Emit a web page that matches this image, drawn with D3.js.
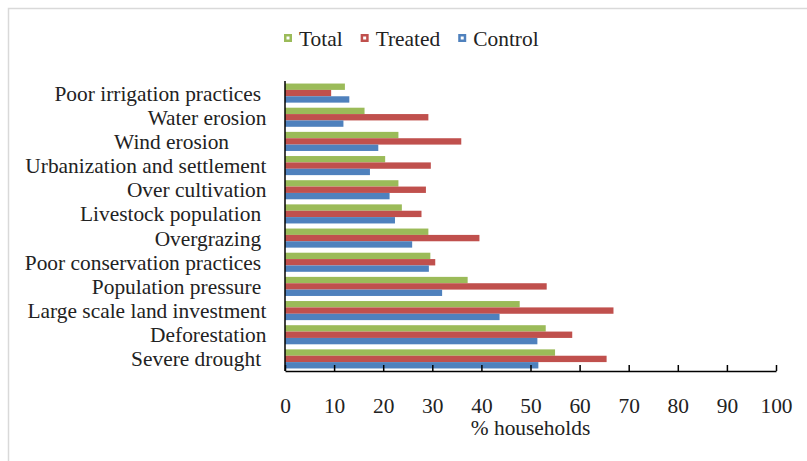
<!DOCTYPE html>
<html>
<head>
<meta charset="utf-8">
<script src="https://cdn.jsdelivr.net/npm/d3@7"></script>
<style>
  html, body { margin: 0; padding: 0; background: #fff; }
  svg text { font-family: "Liberation Serif", "Times New Roman", serif; fill: #222; }
  .cat { white-space: pre; }
</style>
</head>
<body>
<svg id="chart" width="807" height="461"></svg>
<script>
// Reasons for land degradation, % of households per group
const categories = [
  "Poor irrigation practices ",
  "Water erosion",
  "Wind erosion       ",
  "Urbanization and settlement",
  "Over cultivation",
  "Livestock population ",
  "Overgrazing ",
  "Poor conservation practices ",
  "Population pressure ",
  "Large scale land investment",
  "Deforestation",
  "Severe drought "
];
const total   = [12.2, 16.2, 23.1, 20.4, 23.1, 23.8, 29.2, 29.6, 37.2, 47.8, 53.1, 55.0];
const treated = [ 9.4, 29.2, 35.9, 29.7, 28.7, 27.8, 39.6, 30.6, 53.3, 66.9, 58.5, 65.5];
const control = [13.1, 11.9, 19.0, 17.3, 21.3, 22.4, 25.9, 29.3, 32.0, 43.7, 51.4, 51.6];
const seriesNames = ["Total", "Treated", "Control"];
const seriesColors = ["#9BBB59", "#C0504D", "#4F81BD"];
const xTicks = [0, 10, 20, 30, 40, 50, 60, 70, 80, 90, 100];
const xTitle = "% households";

const seriesValues = [total, treated, control];
const fontSize = 21.4;
const svg = d3.select("#chart");

// outer chart frame
svg.append("rect")
  .attr("x", 8.5).attr("y", 8.5)
  .attr("width", 830).attr("height", 500)
  .attr("fill", "none").attr("stroke", "#d9d9d9").attr("stroke-width", 1.5);

const plot = { left: 285, right: 776, top: 81, bottom: 371 };

const x = d3.scaleLinear().domain([0, 100]).range([plot.left, plot.right]);
const y = d3.scaleBand().domain(categories)
  .range([plot.top, plot.bottom])
  .paddingInner(0.21).paddingOuter(0.105);
const ySub = d3.scaleBand().domain(seriesNames).range([0, y.bandwidth()]);

// bars
const groups = svg.append("g").selectAll("g")
  .data(categories)
  .join("g")
  .attr("transform", d => `translate(0,${y(d)})`);

groups.selectAll("rect")
  .data((d, i) => seriesNames.map((s, k) => ({ s, k, v: seriesValues[k][i] })))
  .join("rect")
  .attr("x", x(0))
  .attr("y", d => ySub(d.s))
  .attr("width", d => x(d.v) - x(0))
  .attr("height", ySub.bandwidth())
  .attr("fill", d => seriesColors[d.k]);

// x axis with inward ticks
const xAxis = svg.append("g")
  .attr("transform", `translate(0,${plot.bottom})`)
  .call(d3.axisBottom(x).tickValues(xTicks).tickSize(-6).tickSizeOuter(0).tickPadding(27));
xAxis.select(".domain").attr("stroke", "#000").attr("stroke-width", 1.5);
xAxis.selectAll(".tick line").attr("stroke", "#000").attr("stroke-width", 1.5);
xAxis.selectAll(".tick text").attr("font-size", fontSize);

// y axis line
svg.append("line")
  .attr("x1", plot.left).attr("x2", plot.left)
  .attr("y1", plot.top).attr("y2", plot.bottom)
  .attr("stroke", "#000").attr("stroke-width", 1.5);

// category labels
svg.append("g").selectAll("text")
  .data(categories)
  .join("text")
  .attr("class", "cat")
  .attr("x", 266.5)
  .attr("y", d => y(d) + y.bandwidth() / 2)
  .attr("dy", "0.35em")
  .attr("text-anchor", "end")
  .attr("font-size", fontSize)
  .text(d => d);

// axis title
svg.append("text")
  .attr("x", (plot.left + plot.right) / 2)
  .attr("y", 435)
  .attr("text-anchor", "middle")
  .attr("font-size", fontSize)
  .text(xTitle);

// legend
const legend = svg.append("g").attr("transform", "translate(284,38)");
let lx = 0;
seriesNames.forEach((name, k) => {
  const item = legend.append("g").attr("transform", `translate(${lx},0)`);
  item.append("rect").attr("x", 0).attr("y", -4).attr("width", 8).attr("height", 8)
    .attr("fill", seriesColors[k]);
  item.append("rect").attr("x", 2.5).attr("y", -1.5).attr("width", 3).attr("height", 3)
    .attr("fill", "#fff");
  const t = item.append("text").attr("x", 15).attr("y", 0).attr("dy", "0.35em")
    .attr("font-size", fontSize).text(name);
  lx += 15 + t.node().getComputedTextLength() + 18;
});
</script>
</body>
</html>
